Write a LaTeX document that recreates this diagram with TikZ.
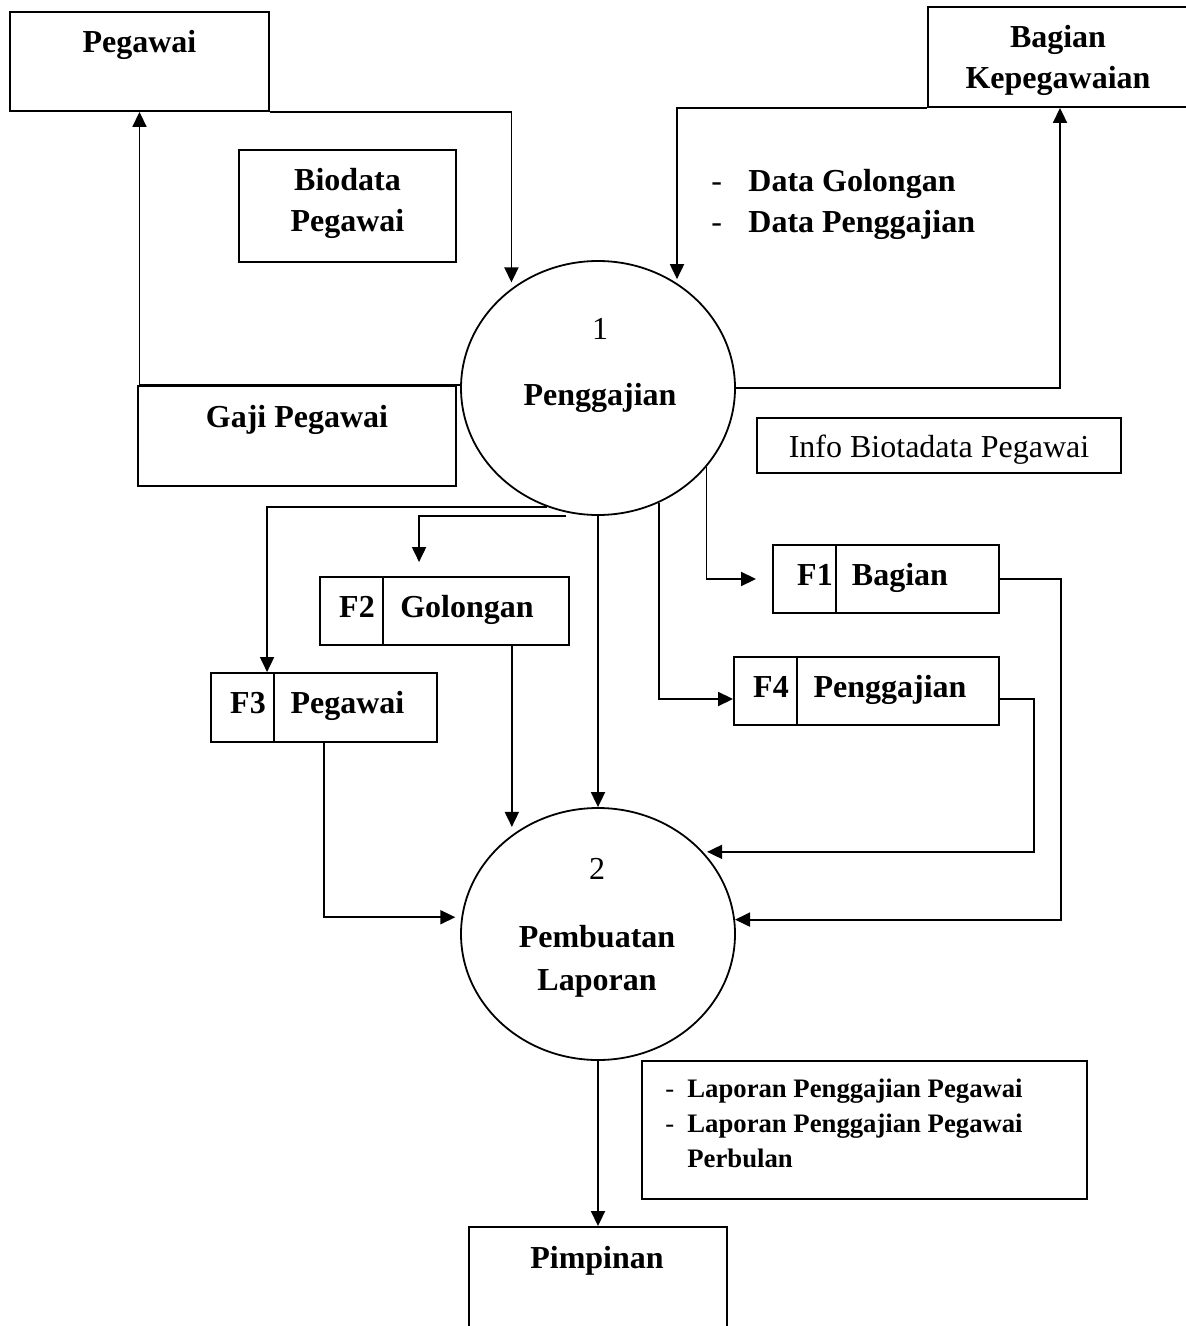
\documentclass[tikz,border=0pt]{standalone}
\usepackage{fontspec}
\setmainfont{Liberation Serif}
\usetikzlibrary{arrows.meta,shapes.geometric}
\begin{document}
\begin{tikzpicture}[x=0.5pt,y=-0.5pt,
  box/.style={draw, rectangle, inner sep=0pt, line width=0.95pt},
  proc/.style={draw, ellipse, inner sep=0pt, line width=0.9pt},
  arr/.style={-{Triangle[length=7.5pt,width=7pt]}, line width=0.9pt},
  ln/.style={line width=0.9pt},
  tb/.style={anchor=base, inner sep=0pt, font=\fontsize{16}{20}\selectfont\bfseries},
  tr/.style={anchor=base, inner sep=0pt, font=\fontsize{16}{20}\selectfont},
  ts/.style={anchor=base west, inner sep=0pt, font=\fontsize{13.35}{17}\selectfont\bfseries},
  tsr/.style={anchor=base west, inner sep=0pt, font=\fontsize{13.35}{17}\selectfont}]
\useasboundingbox (0,0) rectangle (1186,1326);

% external entities and label boxes
\node[box, minimum width=129.5pt, minimum height=49.5pt] (peg) at (139.5,61.5) {};
\node[box, minimum width=132pt, minimum height=50pt] (bk) at (1060,57) {};
\node[box, minimum width=108.5pt, minimum height=56pt] (bio) at (347.5,206) {};
\node[box, minimum width=159pt, minimum height=50pt] (gaji) at (297,436) {};
\node[box, minimum width=182pt, minimum height=27.5pt] (info) at (939,445.5) {};
\node[box, minimum width=222.5pt, minimum height=69pt] (lap) at (864.5,1130) {};
\node[box, minimum width=129pt, minimum height=51.5pt] (pim) at (598,1278.5) {};

% processes
\node[proc, minimum width=137pt, minimum height=127pt] (p1) at (598,388) {};
\node[proc, minimum width=137pt, minimum height=126pt] (p2) at (598,934) {};

% data stores
\node[box, minimum width=113pt, minimum height=34pt] (f1) at (886,579) {};
\node[box, minimum width=124.5pt, minimum height=34pt] (f2) at (444.5,611) {};
\node[box, minimum width=113pt, minimum height=34.5pt] (f3) at (324,707.5) {};
\node[box, minimum width=132.5pt, minimum height=34pt] (f4) at (866.5,691) {};
\foreach \f in {f1,f2,f3,f4}
  \draw[ln] ([xshift=32pt]\f.north west) -- ([xshift=32pt]\f.south west);

% texts
\node[tb] at (139.5,53) {Pegawai};
\node[tb] at (1058,48) {Bagian};
\node[tb] at (1058,89) {Kepegawaian};
\node[tb] at (347.5,191) {Biodata};
\node[tb] at (347.5,232) {Pegawai};
\node[tr, anchor=base west] at (711,192) {-};
\node[tb, anchor=base west] at (748,192) {Data Golongan};
\node[tr, anchor=base west] at (711,233) {-};
\node[tb, anchor=base west] at (748,233) {Data Penggajian};
\node[tb] at (297,427) {Gaji Pegawai};
\node[tr] at (600,339) {1};
\node[tb] at (600,405) {Penggajian};
\node[tr] at (939,457) {Info Biotadata Pegawai};
\node[tb] at (815,585) {F1};
\node[tb] at (900,585) {Bagian};
\node[tb] at (357,617) {F2};
\node[tb] at (467,617) {Golongan};
\node[tb] at (248,713.5) {F3};
\node[tb] at (347.5,713.5) {Pegawai};
\node[tb] at (771,697) {F4};
\node[tb] at (890,697) {Penggajian};
\node[tr] at (597,879) {2};
\node[tb] at (597,947) {Pembuatan};
\node[tb] at (597,990) {Laporan};
\node[tb] at (597,1268) {Pimpinan};
\node[tsr] at (665,1097) {-};
\node[ts] at (687,1097) {Laporan Penggajian Pegawai};
\node[tsr] at (665,1132) {-};
\node[ts] at (687,1132) {Laporan Penggajian Pegawai};
\node[ts] at (687,1167) {Perbulan};

% connectors
\draw[arr, shorten >=3pt] (peg.south east) -| (p1.131);
\draw[arr] (p1.west |- gaji.north) -| (peg.south);
\draw[arr, shorten >=2pt] (bk.south west) -| (p1.53);
\draw[arr] (p1.east) -| (bk.south);
\draw[arr] (p1.247) -| ([xshift=28.5pt]f3.north west);
\draw[arr, shorten >=7pt] ([xshift=-16pt]p1.south) -| ([xshift=50pt]f2.north west);
\draw[arr] (p1.south) -- (p2.north);
\draw[arr] (p1.298) |- ([yshift=-4pt]f4.west);
\draw[arr, shorten >=8pt] (p1.324) |- (f1.west);
\draw[arr, shorten >=4pt] (f2.south -| p2.131) -- (p2.131);
\draw[arr, shorten >=3pt] (f3.south) |- (p2.173);
\draw[arr, shorten >=2pt] ([yshift=-4pt]f4.east) -- ++(17pt,0) |- (p2.38);
\draw[arr] (f1.east) -- ++(30.5pt,0) |- (p2.6);
\draw[arr] (p2.south) -- (pim.north);
\end{tikzpicture}
\end{document}
